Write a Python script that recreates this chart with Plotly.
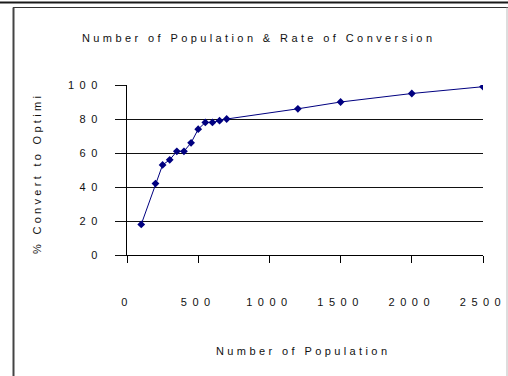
import plotly.graph_objects as go

# ---- data ----
population = [100, 200, 250, 300, 350, 400, 450, 500, 550, 600, 650, 700, 1200, 1500, 2000, 2500]
conversion = [18, 42, 53, 56, 61, 61, 66, 74, 78, 78, 79, 80, 86, 90, 95, 99]
x_tick_vals = [0, 500, 1000, 1500, 2000, 2500]
x_tick_labels = ["0", "500", "1000", "1500", "2000", "2500"]
y_tick_vals = [0, 20, 40, 60, 80, 100]
y_tick_labels = ["0", "20", "40", "60", "80", "100"]
title_text = "Number of Population & Rate of Conversion"
x_title = "Number of Population"
y_title = "% Convert to Optimi"

W, H = 508, 376
L, R, T, B = 127, 25, 85, 121
PW, PH = W - L - R, H - T - B

def px(x):
    return (x - L) / PW

def py(y):
    return (H - B - y) / PH

def spaced(s, ls):
    return f'<span style="letter-spacing:{ls}px">{s}</span>'

FONT = "Liberation Sans, Arial, sans-serif"
navy = "#000080"

fig = go.Figure()
fig.add_trace(go.Scatter(
    x=population, y=conversion, mode="lines+markers",
    line=dict(color=navy, width=1),
    marker=dict(symbol="diamond", size=6, color=navy),
    showlegend=False, hoverinfo="skip",
))

fig.update_layout(
    width=W, height=H,
    margin=dict(l=L, r=R, t=T, b=B, autoexpand=False),
    paper_bgcolor="white", plot_bgcolor="white",
    font=dict(family=FONT, size=11, color="#111"),
    xaxis=dict(
        range=[0, 2500], tickvals=x_tick_vals,
        ticktext=[spaced(t, 5.5) for t in x_tick_labels],
        showgrid=False, zeroline=False, showline=True, linecolor="black", linewidth=1,
        ticks="outside", ticklen=7, tickcolor="black", tickwidth=1, automargin=False,
        ticklabelstandoff=30, tickfont=dict(family=FONT, size=11, color="#111"),
    ),
    yaxis=dict(
        range=[0, 100], tickvals=y_tick_vals,
        ticktext=[spaced(t, 5.5) for t in y_tick_labels],
        showgrid=True, gridcolor="#111", gridwidth=1, automargin=False,
        zeroline=False, showline=True, linecolor="black", linewidth=1,
        ticks="outside", ticklen=11, tickcolor="#111", tickwidth=1,
        ticklabelstandoff=10, tickfont=dict(family=FONT, size=11, color="#111"),
    ),
    annotations=[
        dict(text=spaced(title_text, 3.4), x=px(258), y=py(38), xref="paper", yref="paper",
             xanchor="center", yanchor="middle", showarrow=False,
             font=dict(family=FONT, size=11, color="#111")),
        dict(text=spaced(x_title, 3.4), x=px(303), y=py(350.5), xref="paper", yref="paper",
             xanchor="center", yanchor="middle", showarrow=False,
             font=dict(family=FONT, size=11, color="#111")),
        dict(text=spaced(y_title, 3.3), x=px(37), y=py(174), xref="paper", yref="paper",
             xanchor="center", yanchor="middle", showarrow=False, textangle=-90,
             font=dict(family=FONT, size=11, color="#111")),
    ],
    shapes=[
        dict(type="line", xref="paper", yref="paper", x0=px(0), x1=px(508), y0=py(2.5), y1=py(2.5),
             line=dict(color="#1a1a1a", width=2)),
        dict(type="line", xref="paper", yref="paper", x0=px(13), x1=px(508), y0=py(7.5), y1=py(7.5),
             line=dict(color="#333", width=1)),
        dict(type="line", xref="paper", yref="paper", x0=px(13.5), x1=px(13.5), y0=py(7.5), y1=py(380),
             line=dict(color="#444", width=2)),
        dict(type="line", xref="paper", yref="paper", x0=px(507), x1=px(507), y0=py(7.5), y1=py(380),
             line=dict(color="#bbb", width=1)),
    ],
)

fig.write_html("out.html")
